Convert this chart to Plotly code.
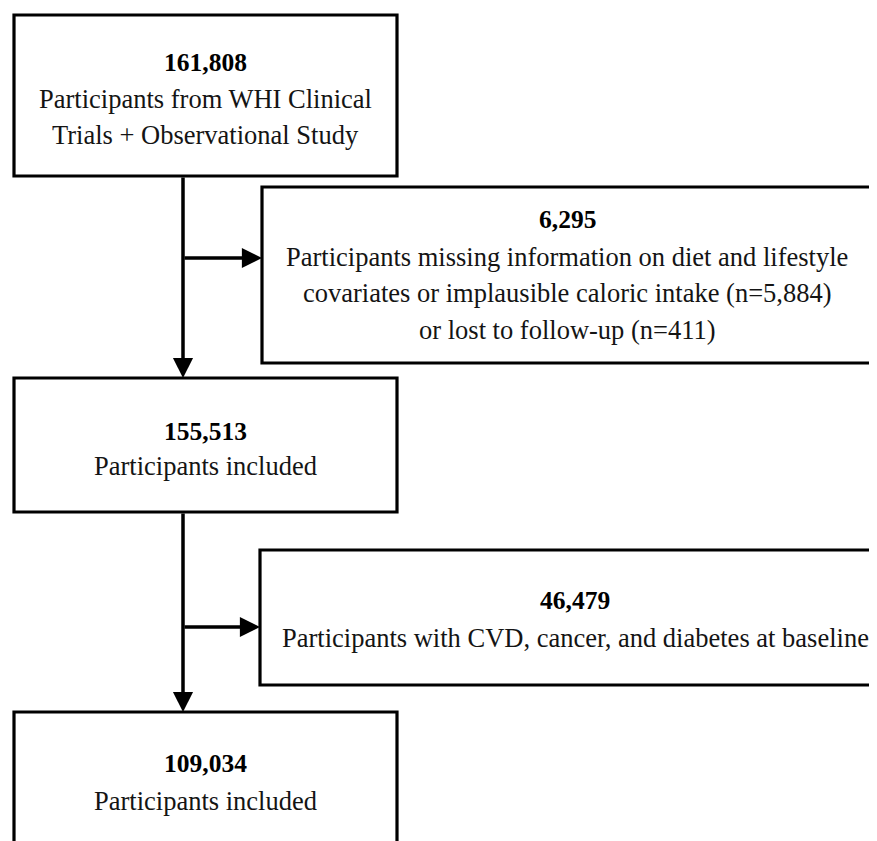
import plotly.graph_objects as go

# ---- data ----
counts = ["161,808", "6,295", "155,513", "46,479", "109,034"]
descriptions = [
    ["Participants from WHI Clinical", "Trials + Observational Study"],
    ["Participants missing information on diet and lifestyle",
     "covariates or implausible caloric intake (n=5,884)",
     "or lost to follow-up (n=411)"],
    ["Participants included"],
    ["Participants with CVD, cancer, and diabetes at baseline"],
    ["Participants included"],
]

# ---- layout (pixel coordinates) ----
W, H = 877, 841
OFF = 8  # page body margin
boxes = [  # x0, y0, x1, y1
    (14, 15, 397, 176),
    (262, 187, 880, 363),
    (14, 378, 397, 512),
    (260, 550, 880, 685),
    (14, 712, 397, 870),
]
text_pos = [  # center x, y of count line, line spacing
    (205, 62, 36),
    (567, 219, 36.5),
    (205, 431, 34),
    (575, 600, 37),
    (205, 763, 37),
]
FONT = "Palatino Linotype, Book Antiqua, Palatino, Liberation Serif, serif"
FS = 26.5

fig = go.Figure()
fig.add_trace(go.Scatter(x=[OFF, W + OFF], y=[OFF, H + OFF], mode="markers",
                         marker=dict(opacity=0), hoverinfo="skip", showlegend=False))

for (x0, y0, x1, y1) in boxes:
    fig.add_shape(type="rect", x0=x0, y0=y0, x1=x1, y1=y1,
                  line=dict(color="black", width=3.2), fillcolor="white", layer="below")

for i, (cx, cy, dy) in enumerate(text_pos):
    fig.add_annotation(x=cx, y=cy, text="<b>" + counts[i] + "</b>", showarrow=False,
                       font=dict(family=FONT, size=FS - 1, color="black"),
                       xanchor="center", yanchor="middle")
    for j, line in enumerate(descriptions[i]):
        fig.add_annotation(x=cx, y=cy + dy * (j + 1) + 1, text=line, showarrow=False,
                           font=dict(family=FONT, size=FS, color="#141414"),
                           xanchor="center", yanchor="middle")

# arrows
VX = 183
arrows = [  # (tail x, tail y, head x, head y)
    (VX, 176, VX, 378),
    (VX, 258, 262, 258),
    (VX, 512, VX, 712),
    (VX, 627, 260, 627),
]
for (ax, ay, hx, hy) in arrows:
    fig.add_annotation(x=hx, y=hy, ax=ax, ay=ay, xref="x", yref="y",
                       axref="x", ayref="y", text="", showarrow=True,
                       arrowhead=2, arrowsize=1.15, arrowwidth=3.5, arrowcolor="black",
                       standoff=0, startstandoff=0)

fig.update_layout(
    width=W, height=H, margin=dict(l=0, r=0, t=0, b=0),
    paper_bgcolor="white", plot_bgcolor="white",
    xaxis=dict(range=[OFF, W + OFF], visible=False, fixedrange=True),
    yaxis=dict(range=[H + OFF, OFF], visible=False, fixedrange=True),
    showlegend=False,
)
fig.write_html("out.html")
